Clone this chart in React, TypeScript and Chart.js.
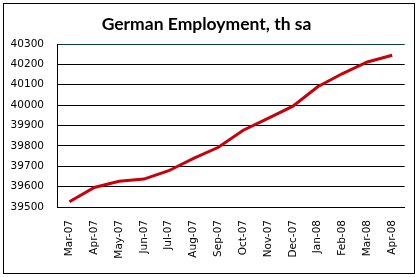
import React, { useEffect, useRef } from "react";
import { Chart, registerables } from "chart.js";

Chart.register(...registerables);

const TITLE = "German Employment, th sa";
const MONTHS = [
  "Mar-07", "Apr-07", "May-07", "Jun-07", "Jul-07", "Aug-07", "Sep-07",
  "Oct-07", "Nov-07", "Dec-07", "Jan-08", "Feb-08", "Mar-08", "Apr-08",
];
const EMPLOYMENT = [
  39526, 39596, 39626, 39637, 39678, 39739, 39793,
  39877, 39935, 39995, 40090, 40155, 40212, 40245,
];
const Y_MIN = 39500;
const Y_MAX = 40300;
const Y_STEP = 100;

const outerBorder = {
  id: "outerBorder",
  afterDraw(chart: any) {
    const ctx = chart.ctx;
    ctx.save();
    ctx.strokeStyle = "#000";
    ctx.lineWidth = 1;
    ctx.strokeRect(3.5, 3.5, 411, 270);
    ctx.restore();
  },
};

export default function App() {
  const ref = useRef<HTMLCanvasElement>(null);
  useEffect(() => {
    if (!ref.current) return;
    const tickFont = { family: "DejaVu Sans", size: 10.5 };
    const chart = new Chart(ref.current, {
      type: "line",
      data: {
        labels: MONTHS,
        datasets: [
          {
            data: EMPLOYMENT,
            borderColor: "#c8000a",
            borderWidth: 3,
            pointRadius: 0,
            tension: 0,
            fill: false,
          },
        ],
      },
      options: {
        responsive: false,
        animation: false,
        layout: { padding: { left: 0, right: 5, top: 0, bottom: 0 } },
        plugins: {
          legend: { display: false },
          tooltip: { enabled: false },
          title: {
            display: true,
            text: TITLE,
            color: "#000",
            font: { family: "Lato", size: 17.5, weight: "bold" },
            padding: { top: 13.5, bottom: 9.5 },
          },
        },
        scales: {
          x: {
            offset: true,
            grid: { display: false, drawTicks: false },
            border: { display: true, color: "#000", width: 1 },
            ticks: {
              color: "#000",
              font: tickFont,
              minRotation: 90,
              maxRotation: 90,
              autoSkip: false,
              padding: 13,
            },
            afterFit(scale: any) {
              scale.height = 70;
            },
          },
          y: {
            min: Y_MIN,
            max: Y_MAX,
            grid: {
              drawTicks: false,
              color: (c: any) => (c.tick && c.tick.value === Y_MAX ? "#0e3b3b" : "#000"),
              lineWidth: 1,
            },
            border: { display: true, color: "#000", width: 1 },
            ticks: {
              stepSize: Y_STEP,
              color: "#000",
              font: tickFont,
              padding: 13,
              callback: (v: any) => String(v),
            },
            afterFit(scale: any) {
              scale.width = 57;
            },
          },
        },
      },
      plugins: [outerBorder],
    });
    return () => chart.destroy();
  }, []);
  return (
    <div style={{ position: "fixed", left: 0, top: 0, width: 418, height: 277, background: "#fff" }}>
      <canvas ref={ref} width={418} height={277} />
    </div>
  );
}
